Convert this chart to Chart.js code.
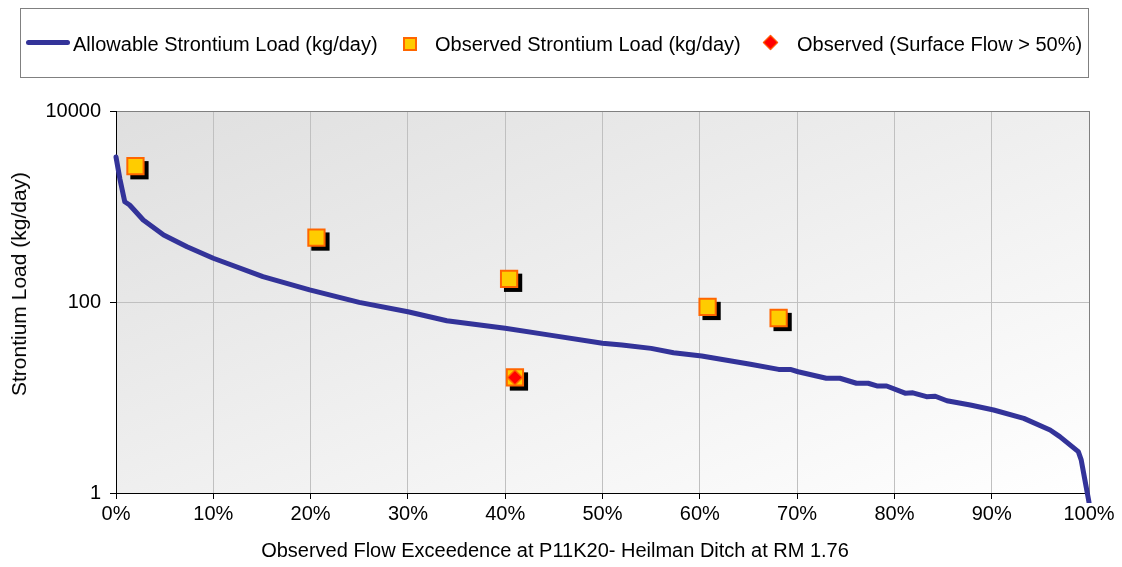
<!DOCTYPE html>
<html>
<head>
<meta charset="utf-8">
<script src="https://cdn.jsdelivr.net/npm/chart.js@4/dist/chart.umd.min.js"></script>
<style>
html,body{margin:0;padding:0;background:#fff;}
#wrap{position:relative;width:1122px;height:567px;font-family:'Liberation Sans',Arial,sans-serif;color:#000;overflow:hidden;}
#chart{position:absolute;left:0;top:0;}
#legendBox{position:absolute;left:20px;top:8px;width:1069px;height:70px;box-sizing:border-box;border:1px solid #808080;}
.lt{position:absolute;top:33px;height:22px;line-height:22px;font-size:20px;white-space:nowrap;}
.symLine{position:absolute;left:26px;top:40px;width:44px;height:5px;border-radius:3px;background:#333399;}
.symSq{position:absolute;left:403px;top:37px;width:14px;height:14px;box-sizing:border-box;border:2px solid #FF6600;background:#FFCC00;}
.symDia{position:absolute;left:765px;top:37px;width:11px;height:11px;box-sizing:border-box;border:1px solid #FF6600;background:#FF0000;transform:rotate(45deg);}
#xTitle{position:absolute;left:555px;top:550px;transform:translate(-50%,-50%);font-size:20px;white-space:nowrap;}
#yTitle{position:absolute;left:19px;top:284px;transform:translate(-50%,-50%) rotate(-90deg);font-size:21px;white-space:nowrap;}
</style>
</head>
<body>
<div id="wrap">
  <canvas id="chart" width="1122" height="567"></canvas>
  <div id="legendBox"></div>
  <div class="symLine"></div>
  <div class="lt" id="lt0" style="left:73px;"></div>
  <div class="symSq"></div>
  <div class="lt" id="lt1" style="left:435px;"></div>
  <div class="symDia"></div>
  <div class="lt" id="lt2" style="left:797px;"></div>
  <div id="xTitle"></div>
  <div id="yTitle"></div>
</div>
<script>
// ---- data ----
const seriesNames = [
  'Allowable Strontium Load (kg/day)',
  'Observed Strontium Load (kg/day)',
  'Observed (Surface Flow > 50%)'
];
const xAxisTitle = 'Observed Flow Exceedence at P11K20- Heilman Ditch at RM 1.76';
const yAxisTitle = 'Strontium Load (kg/day)';

const flowPct = [0, 0.4, 0.9, 1.4, 2.8, 4.9, 7.3, 10, 15.1, 19.9, 25, 30, 34, 40, 44.6, 50, 52, 55, 57.3, 60.2, 65.2, 68.1, 69.3, 70.1, 73, 74.4, 76.1, 77.3, 78.2, 79.2, 81.1, 81.9, 83.3, 84.2, 85.4, 87.8, 90.2, 93.3, 96, 97, 98.9, 99.2, 100];
const allowLoad = [3300, 1940, 1122, 1037, 722, 503, 379, 287, 184, 134, 99, 79, 63.7, 53, 45, 37, 35.5, 32.7, 29.4, 27.2, 22.3, 19.7, 19.7, 18.6, 15.9, 15.9, 14.1, 14.1, 13.2, 13.2, 11.1, 11.2, 10.2, 10.3, 9.25, 8.34, 7.4, 6.05, 4.57, 3.89, 2.71, 2.22, 0.8];

const obsPct  = [2.0, 20.6, 40.4, 41.0, 60.8, 68.1];
const obsLoad = [2640, 473, 175, 16.2, 88.7, 68];

const surfPct  = [41.0];
const surfLoad = [16.2];

const xTickValues = [0, 10, 20, 30, 40, 50, 60, 70, 80, 90, 100];
const yTickValues = [1, 100, 10000];

// ---- text ----
document.getElementById('lt0').textContent = seriesNames[0];
document.getElementById('lt1').textContent = seriesNames[1];
document.getElementById('lt2').textContent = seriesNames[2];
document.getElementById('xTitle').textContent = xAxisTitle;
document.getElementById('yTitle').textContent = yAxisTitle;

const toXY = (xs, ys) => xs.map((x, i) => ({x: x, y: ys[i]}));

const SQ_R = 11.5, SQ_BW = 2;

// ---- plugins ----
const bgPlugin = {
  id: 'plotBg',
  beforeDraw(chart) {
    const {ctx, chartArea: a} = chart;
    const w = a.right - a.left, h = a.bottom - a.top;
    const k = 2 * w * h / (w * w + h * h);
    const g = ctx.createLinearGradient(a.left, a.top, a.left + h * k, a.top + w * k);
    g.addColorStop(0, '#DFDFDF');
    g.addColorStop(1, '#FFFFFF');
    ctx.save();
    ctx.fillStyle = g;
    ctx.fillRect(a.left, a.top, w, h);
    ctx.restore();
  }
};
// black drop shadow behind each observed square, placed from the library's computed point positions
const shadowPlugin = {
  id: 'markerShadow',
  beforeDatasetDraw(chart, args) {
    if (args.index !== 1) return;
    const ctx = chart.ctx;
    const s = Math.SQRT2 * SQ_R + SQ_BW;
    ctx.save();
    ctx.fillStyle = '#000000';
    args.meta.data.forEach(pt => {
      ctx.fillRect(pt.x + 4 - s / 2, pt.y + 4 - s / 2, s, s);
    });
    ctx.restore();
  }
};

const FONT = {family: "'Liberation Sans', Arial, sans-serif", size: 20};

new Chart(document.getElementById('chart'), {
  type: 'scatter',
  data: {
    datasets: [
      {
        label: seriesNames[0],
        data: toXY(flowPct, allowLoad),
        showLine: true,
        borderColor: '#333399',
        backgroundColor: '#333399',
        borderWidth: 5,
        pointRadius: 0,
        tension: 0,
        borderJoinStyle: 'round',
        borderCapStyle: 'round',
        clip: {left: 5, top: 5, right: 5, bottom: 10},
        order: 2
      },
      {
        label: seriesNames[1],
        data: toXY(obsPct, obsLoad),
        pointStyle: 'rect',
        pointRadius: SQ_R,
        backgroundColor: '#FFCC00',
        borderColor: '#FF6600',
        borderWidth: SQ_BW,
        order: 1
      },
      {
        label: seriesNames[2],
        data: toXY(surfPct, surfLoad),
        pointStyle: 'rectRot',
        pointRadius: 7.5,
        backgroundColor: '#FF0000',
        borderColor: '#FF6600',
        borderWidth: 1.5,
        order: 0
      }
    ]
  },
  options: {
    responsive: false,
    animation: false,
    events: [],
    layout: {padding: {left: 0, top: 111, right: 33, bottom: 0}},
    plugins: {legend: {display: false}, tooltip: {enabled: false}},
    scales: {
      x: {
        type: 'linear',
        min: 0, max: 100,
        afterBuildTicks: s => { s.ticks = xTickValues.map(v => ({value: v})); },
        afterFit: s => { s.height = 74; },
        ticks: {
          color: '#000', font: FONT, padding: 3, maxRotation: 0,
          callback: v => v + '%'
        },
        grid: {
          color: c => (c.tick && c.tick.value === 100) ? '#808080' : '#C0C0C0',
          lineWidth: 1,
          tickLength: 6,
          tickColor: '#000'
        },
        border: {display: true, color: '#000', width: 1}
      },
      y: {
        type: 'logarithmic',
        min: 1, max: 10000,
        afterBuildTicks: s => { s.ticks = yTickValues.map(v => ({value: v})); },
        afterFit: s => { s.width = 116; },
        ticks: {
          color: '#000', font: FONT, padding: 9,
          callback: v => String(v)
        },
        grid: {
          color: c => (c.tick && c.tick.value === 10000) ? '#808080' : '#C0C0C0',
          lineWidth: 1,
          tickLength: 6,
          tickColor: '#000'
        },
        border: {display: true, color: '#000', width: 1}
      }
    }
  },
  plugins: [bgPlugin, shadowPlugin]
});
</script>
</body>
</html>
